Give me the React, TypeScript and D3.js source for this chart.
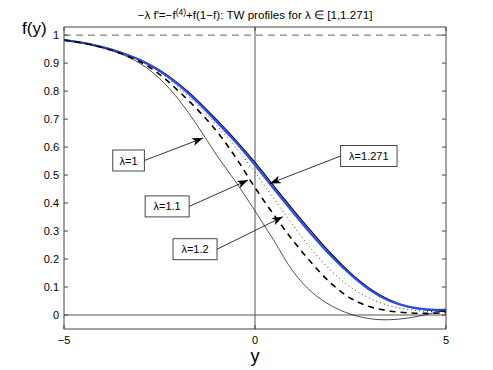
import * as d3 from "d3";

// x grid the profiles were read at
const yGrid = [-5, -4.5, -4, -3.5, -3, -2.5, -2, -1.5, -1, -0.5, 0, 0.5, 1, 1.5, 2, 2.5, 3, 3.5, 4, 4.5, 5];

// profiles
const lambda1 = [0.982, 0.971, 0.955, 0.932, 0.898, 0.845, 0.77, 0.675, 0.57, 0.475, 0.372, 0.265, 0.155, 0.08, 0.033, 0.003, -0.013, -0.017, -0.011, 0.002, 0.02];
const lambda11 = [0.982, 0.972, 0.956, 0.934, 0.904, 0.86, 0.8, 0.733, 0.656, 0.562, 0.455, 0.357, 0.265, 0.183, 0.112, 0.06, 0.03, 0.015, 0.008, 0.006, 0.008];
const lambda12 = [0.982, 0.972, 0.957, 0.936, 0.908, 0.868, 0.813, 0.75, 0.677, 0.598, 0.51, 0.415, 0.32, 0.232, 0.157, 0.1, 0.06, 0.034, 0.02, 0.013, 0.012];
const lambdaMaxBlack = [0.982, 0.972, 0.958, 0.938, 0.912, 0.875, 0.826, 0.766, 0.697, 0.624, 0.545, 0.46, 0.376, 0.295, 0.218, 0.15, 0.095, 0.055, 0.03, 0.018, 0.012];
const lambdaMax = [0.982, 0.972, 0.957, 0.937, 0.91, 0.872, 0.822, 0.76, 0.69, 0.617, 0.536, 0.45, 0.366, 0.285, 0.21, 0.145, 0.09, 0.052, 0.03, 0.02, 0.018];

const xTicks = [-5, 0, 5];
const xTickLabels = ["\u22125", "0", "5"];
const yTicks = [0, 0.1, 0.2, 0.3, 0.4, 0.5, 0.6, 0.7, 0.8, 0.9, 1];
const yTickLabels = ["0", "0.1", "0.2", "0.3", "0.4", "0.5", "0.6", "0.7", "0.8", "0.9", "1"];

// annotation labels, box centre and arrow tip in data units
const noteLabels = ["\u03bb=1", "\u03bb=1.1", "\u03bb=1.2", "\u03bb=1.271"];
const noteBox = [[-3.31, 0.552], [-2.3, 0.388], [-1.57, 0.235], [2.98, 0.568]];
const noteTip = [[-1.36, 0.632], [-0.18, 0.482], [0.73, 0.351], [0.39, 0.47]];

const width = 493;
const height = 370;
const marginLeft = 64;
const marginRight = 47;
const marginTop = 27;
const marginBottom = 41;

const font = "'Liberation Sans', Arial, Helvetica, sans-serif";

export default function App() {
  const x = d3.scaleLinear().domain([-5, 5]).range([marginLeft, width - marginRight]);
  const y = d3.scaleLinear().domain([-0.05, 1.029]).range([height - marginBottom, marginTop]);

  const line = d3.line<number>()
    .x((_, i) => x(yGrid[i]))
    .y(d => y(d))
    .curve(d3.curveCatmullRom.alpha(0.5));

  const series = [
    { values: lambdaMaxBlack, stroke: "#000", w: 1.2, dash: undefined },
    { values: lambdaMax, stroke: "#2b4cf2", w: 2.2, dash: undefined },
    { values: lambda1, stroke: "#222", w: 0.8, dash: undefined },
    { values: lambda11, stroke: "#000", w: 1.6, dash: "6,5" },
    { values: lambda12, stroke: "#333", w: 1, dash: "1,3" },
  ];

  const x0 = marginLeft;
  const x1 = width - marginRight;
  const y0 = marginTop;
  const y1 = height - marginBottom;

  return (
    <svg width={width} height={height} viewBox={`0 0 ${width} ${height}`}
      style={{ position: "absolute", left: 0, top: 0, background: "#fff" }}
      fontFamily={font}>
      <defs>
        <marker id="arr" markerUnits="userSpaceOnUse" markerWidth={11} markerHeight={8}
          refX={11} refY={4} orient="auto">
          <path d="M0,0 L11,4 L0,8 L3,4 z" fill="#000" />
        </marker>
        <clipPath id="plot">
          <rect x={x0} y={y0} width={x1 - x0} height={y1 - y0} />
        </clipPath>
      </defs>

      {/* title */}
      <text x={(x0 + x1) / 2} y={19} textAnchor="middle" fontSize={11.6}>
        {"\u2212\u03bb f'=\u2212f"}
        <tspan dy={-4} fontSize={8.5}>(4)</tspan>
        <tspan dy={4}>{"+f(1\u2212f): TW profiles for \u03bb \u2208 [1,1.271]"}</tspan>
      </text>

      {/* reference lines */}
      <line x1={x0} x2={x1} y1={y(1)} y2={y(1)} stroke="#666" strokeDasharray="7,5" />
      <line x1={x0} x2={x1} y1={y(0)} y2={y(0)} stroke="#555" />
      <line x1={x(0)} x2={x(0)} y1={y0} y2={y1} stroke="#555" />

      <g clipPath="url(#plot)" fill="none">
        {series.map((s, i) => (
          <path key={i} d={line(s.values) ?? ""} stroke={s.stroke} strokeWidth={s.w}
            strokeDasharray={s.dash} />
        ))}
      </g>

      {/* annotations */}
      {noteLabels.map((t, i) => {
        const cx = x(noteBox[i][0]);
        const cy = y(noteBox[i][1]);
        const bw = t.length * 6.2 + 13;
        const bh = 21;
        const tx = x(noteTip[i][0]);
        const ty = y(noteTip[i][1]);
        const sx = tx > cx ? cx + bw / 2 : cx - bw / 2;
        return (
          <g key={t}>
            <line x1={sx} y1={cy} x2={tx} y2={ty} stroke="#000" strokeWidth={0.8} markerEnd="url(#arr)" />
            <rect x={cx - bw / 2} y={cy - bh / 2} width={bw} height={bh} fill="#fff" stroke="#333" strokeWidth={0.9} />
            <text x={cx} y={cy + 4} textAnchor="middle" fontSize={11}>{t}</text>
          </g>
        );
      })}

      {/* axes box */}
      <rect x={x0} y={y0} width={x1 - x0} height={y1 - y0} fill="none" stroke="#444" strokeWidth={1} />
      {yTicks.map((t, i) => (
        <g key={t}>
          <line x1={x0} x2={x0 + 4} y1={y(t)} y2={y(t)} stroke="#444" />
          <line x1={x1} x2={x1 - 4} y1={y(t)} y2={y(t)} stroke="#444" />
          <text x={x0 - 5} y={y(t) + 4} textAnchor="end" fontSize={11}>{yTickLabels[i]}</text>
        </g>
      ))}
      {xTicks.map((t, i) => (
        <g key={t}>
          <line x1={x(t)} x2={x(t)} y1={y1} y2={y1 - 4} stroke="#444" />
          <line x1={x(t)} x2={x(t)} y1={y0} y2={y0 + 4} stroke="#444" />
          <text x={x(t)} y={y1 + 15} textAnchor="middle" fontSize={11}>{xTickLabels[i]}</text>
        </g>
      ))}

      {/* axis labels */}
      <text x={x(0)} y={362} textAnchor="middle" fontSize={18}>y</text>
      <text x={22} y={34} fontSize={17}>f(y)</text>
    </svg>
  );
}
